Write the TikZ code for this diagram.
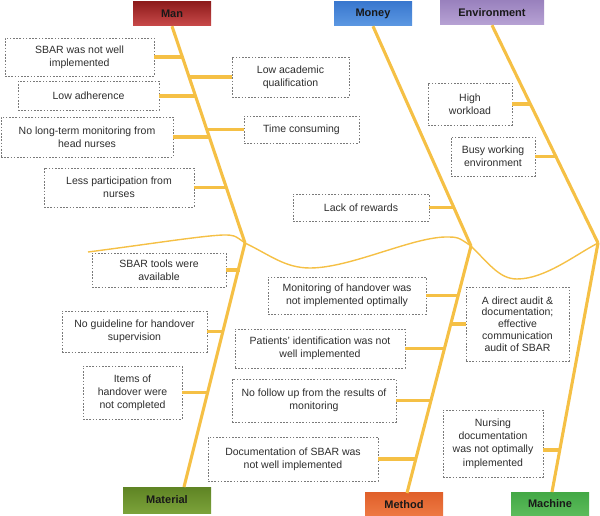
\documentclass[tikz,border=0pt]{standalone}
\usepackage{fontspec}
\setmainfont{Liberation Sans}
\usetikzlibrary{calc}
\definecolor{bonec}{HTML}{F5C045}
\definecolor{dashc}{HTML}{7A7A7A}
\definecolor{txtc}{HTML}{2E2E2E}
\definecolor{manT}{HTML}{8E1C1C}\definecolor{manB}{HTML}{C94A4A}
\definecolor{monT}{HTML}{3A78CF}\definecolor{monB}{HTML}{5C98E2}
\definecolor{envT}{HTML}{9A82BE}\definecolor{envB}{HTML}{B7A2D4}
\definecolor{matT}{HTML}{5F8424}\definecolor{matB}{HTML}{7BA23A}
\definecolor{metT}{HTML}{E0602A}\definecolor{metB}{HTML}{EE7A45}
\definecolor{macT}{HTML}{43A845}\definecolor{macB}{HTML}{5CBC5C}
\tikzset{
  bone/.style={draw=bonec, line width=3.1pt},
  wave/.style={draw=bonec, line width=1.4pt},
  cause/.style={draw=dashc, dash pattern=on 1.6pt off 1.6pt, line width=0.8pt, fill=white,
    text=txtc, align=center, inner sep=0pt, font=\fontsize{10.5}{13}\selectfont},
  cat/.style={inner sep=0pt, minimum height=24pt, font=\fontsize{11}{13}\selectfont\bfseries, text=black!90},
}
\begin{document}
\begin{tikzpicture}[x=1pt,y=-1pt]
\useasboundingbox (0,0) rectangle (600,516);
% junctions
\coordinate (jA) at (245,243);
\coordinate (jB) at (471,246);
\coordinate (jC) at (598,243);
% wave (head)
\coordinate (w0) at (88,252);
\draw[wave] (w0) .. controls (150,244) and (200,236) .. (223,235)
  .. controls (234,235) .. (jA)
  .. controls (270,255) and (285,268) .. (310,268)
  .. controls (350,268) and (410,238) .. (445,237)
  .. controls (458,237) .. (jB)
  .. controls (490,265) and (500,279) .. (517,279)
  .. controls (545,279) and (575,255) .. (jC);
% category boxes
\node[cat, minimum width=78pt, top color=manT, bottom color=manB] (man) at (172,14) {Man};
\node[cat, minimum width=78pt, top color=monT, bottom color=monB] (money) at (373,14) {Money};
\node[cat, minimum width=104pt, top color=envT, bottom color=envB] (env) at (492,13) {Environment};
\node[cat, minimum width=88pt, minimum height=26pt, top color=matT, bottom color=matB] (mat) at (167,500) {Material};
\node[cat, minimum width=78pt, top color=metT, bottom color=metB] (meth) at (404,504.5) {Method};
\node[cat, minimum width=78pt, top color=macT, bottom color=macB] (mach) at (550,504) {Machine};
% spine bottoms
\coordinate (matS) at (184,487);
\coordinate (metS) at (407,493);
\coordinate (macS) at (552,492);
% spines
\draw[bone] (man.south) -- (jA);
\draw[bone] (money.south) -- (jB);
\draw[bone] (env.south) -- (jC);
\draw[bone] (matS) -- (jA);
\draw[bone] (metS) -- (jB);
\draw[bone] (macS) -- (jC);
% causes - Man
\node[cause, minimum width=149pt, minimum height=38pt] (c1) at (79.5,57) {SBAR was not well\\implemented};
\node[cause, minimum width=117pt, minimum height=40pt] (c2) at (290.5,77) {Low academic\\qualification};
\node[cause, minimum width=141pt, minimum height=29pt] (c3) at (88.5,96) {Low adherence};
\node[cause, minimum width=115pt, minimum height=27pt] (c4) at (301.5,129.5) {Time consuming};
\node[cause, minimum width=172pt, minimum height=40pt] (c5) at (87,137) {No long-term monitoring from\\head nurses};
\node[cause, minimum width=150pt, minimum height=39pt] (c6) at (119,187.5) {Less participation from\\nurses};
% Money
\node[cause, minimum width=136pt, minimum height=27pt] (c7) at (361,207.5) {Lack of rewards};
% Environment
\node[cause, minimum width=84pt, minimum height=42pt] (c8) at (470,104) {High\\workload};
\node[cause, minimum width=84pt, minimum height=39pt] (c9) at (493,156.5) {Busy working\\environment};
% Material
\node[cause, minimum width=134pt, minimum height=34pt] (c10) at (159,270) {SBAR tools were\\available};
\node[cause, minimum width=145pt, minimum height=41pt] (c11) at (134.5,331.5) {No guideline for handover\\supervision};
\node[cause, minimum width=99pt, minimum height=53pt] (c12) at (132.5,392.5) {Items of\\handover were\\not completed};
% Method
\node[cause, minimum width=158pt, minimum height=37pt] (c13) at (347,295.5) {Monitoring of handover was\\not implemented optimally};
\node[cause, minimum width=170pt, minimum height=39pt] (c14) at (320,348.5) {Patients' identification was not\\well implemented};
\node[cause, minimum width=164pt, minimum height=43pt] (c15) at (314,400.5) {No follow up from the results of\\monitoring};
\node[cause, minimum width=170pt, minimum height=44pt] (c16) at (293,459) {Documentation of SBAR was\\not well implemented};
% Machine
\node[cause, minimum width=103pt, minimum height=74pt, font=\fontsize{10.5}{11.8}\selectfont] (c17) at (517.5,324) {A direct audit \&\\documentation;\\effective\\communication\\audit of SBAR};
\node[cause, minimum width=100pt, minimum height=67pt, font=\fontsize{10.5}{13.4}\selectfont] (c18) at (493,443.5) {Nursing\\documentation\\was not optimally\\implemented};
% connector ends on spines
\coordinate (k1) at (182.4,57);
\coordinate (k2) at (189.2,77);
\coordinate (k3) at (195.5,96);
\coordinate (k4) at (206.8,129.5);
\coordinate (k5) at (209.3,137);
\coordinate (k6) at (226.3,187.5);
\coordinate (k7) at (453.5,207.5);
\coordinate (k8) at (530,104);
\coordinate (k9) at (555.5,156.5);
\coordinate (k10) at (239.9,270);
\coordinate (k11) at (223.8,331.5);
\coordinate (k12) at (207.8,392.5);
\coordinate (k13) at (458.2,295.5);
\coordinate (k14) at (444.4,348.5);
\coordinate (k15) at (431,400.5);
\coordinate (k16) at (415.8,459);
\coordinate (k17) at (450.8,324);
\coordinate (k18) at (559.8,450);
\foreach \i in {1,...,17}{\draw[bone] (c\i) -- (k\i);}
\draw[bone] (c18.east |- k18) -- (k18);
\end{tikzpicture}
\end{document}
